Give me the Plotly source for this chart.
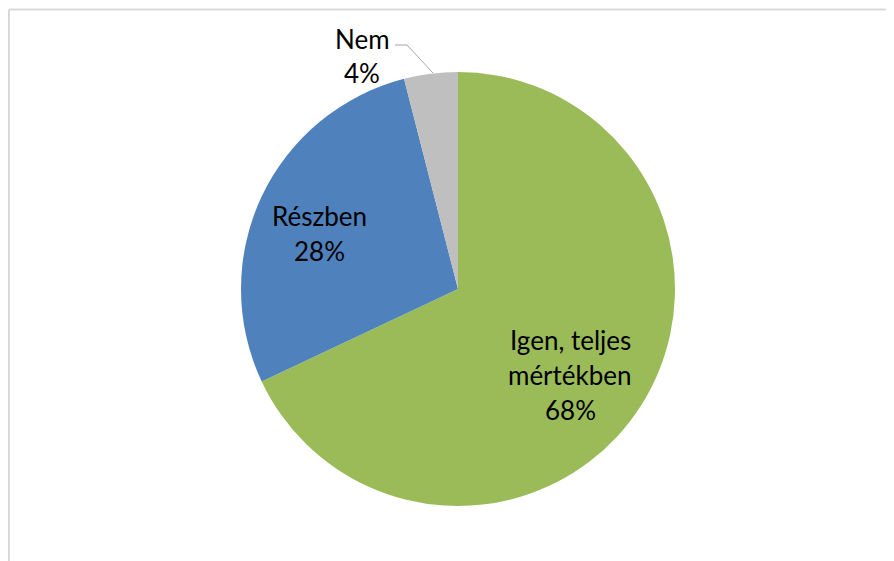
import plotly.graph_objects as go

categories = ["Igen, teljes mértékben", "Részben", "Nem"]
values = [68, 28, 4]
colors = ["#9BBB59", "#4F81BD", "#BFBFBF"]
label_lines = [["Igen, teljes", "mértékben"], ["Részben"], ["Nem"]]

OFF = 8  # page body margin
W, H = 894 - OFF, 561 - OFF
cx, cy, r = 458 - OFF, 289 - OFF, 217

def px(x, y):
    return (x - OFF) / W, 1 - (y - OFF) / H

fig = go.Figure(go.Pie(
    labels=categories, values=values, sort=False, direction="clockwise",
    rotation=0, marker=dict(colors=colors, line=dict(width=0)),
    textinfo="none", hoverinfo="label+percent", showlegend=False,
    domain=dict(x=[(cx - r) / W, (cx + r) / W], y=[1 - (cy + r) / H, 1 - (cy - r) / H]),
))

total = sum(values)
# label anchor (center x, first line center y, line spacing)
anchors = [(570, 340, 35), (319, 216, 35), (362, 39, 34)]
for (x, y0, dy), lines, v in zip(anchors, label_lines, values):
    all_lines = lines + [f"{round(100 * v / total)}%"]
    for i, t in enumerate(all_lines):
        ax, ay = px(x, y0 + i * dy)
        fig.add_annotation(x=ax, y=ay, xref="paper", yref="paper", text=t, showarrow=False,
                           font=dict(family="Lato, Carlito, sans-serif", size=26, color="#000"),
                           xanchor="center", yanchor="middle")

def pp(x, y):
    a, b = px(x, y)
    return f"{a} {b}"

fig.add_shape(type="path", xref="paper", yref="paper",
              path=f"M {pp(395, 45)} L {pp(407, 45)} L {pp(433, 73)}",
              line=dict(color="#A6A6A6", width=1))
# page frame lines
fig.add_shape(type="line", xref="paper", yref="paper", x0=1 / W, x1=1, y0=1 - 1.5 / H, y1=1 - 1.5 / H,
              line=dict(color="#D9D9D9", width=2))
fig.add_shape(type="line", xref="paper", yref="paper", x0=1 / W, x1=1 / W, y0=0, y1=1 - 1.5 / H,
              line=dict(color="#D9D9D9", width=2))

fig.update_layout(width=W, height=H, margin=dict(l=0, r=0, t=0, b=0),
                  paper_bgcolor="white", plot_bgcolor="white")
fig.write_html("out.html")
